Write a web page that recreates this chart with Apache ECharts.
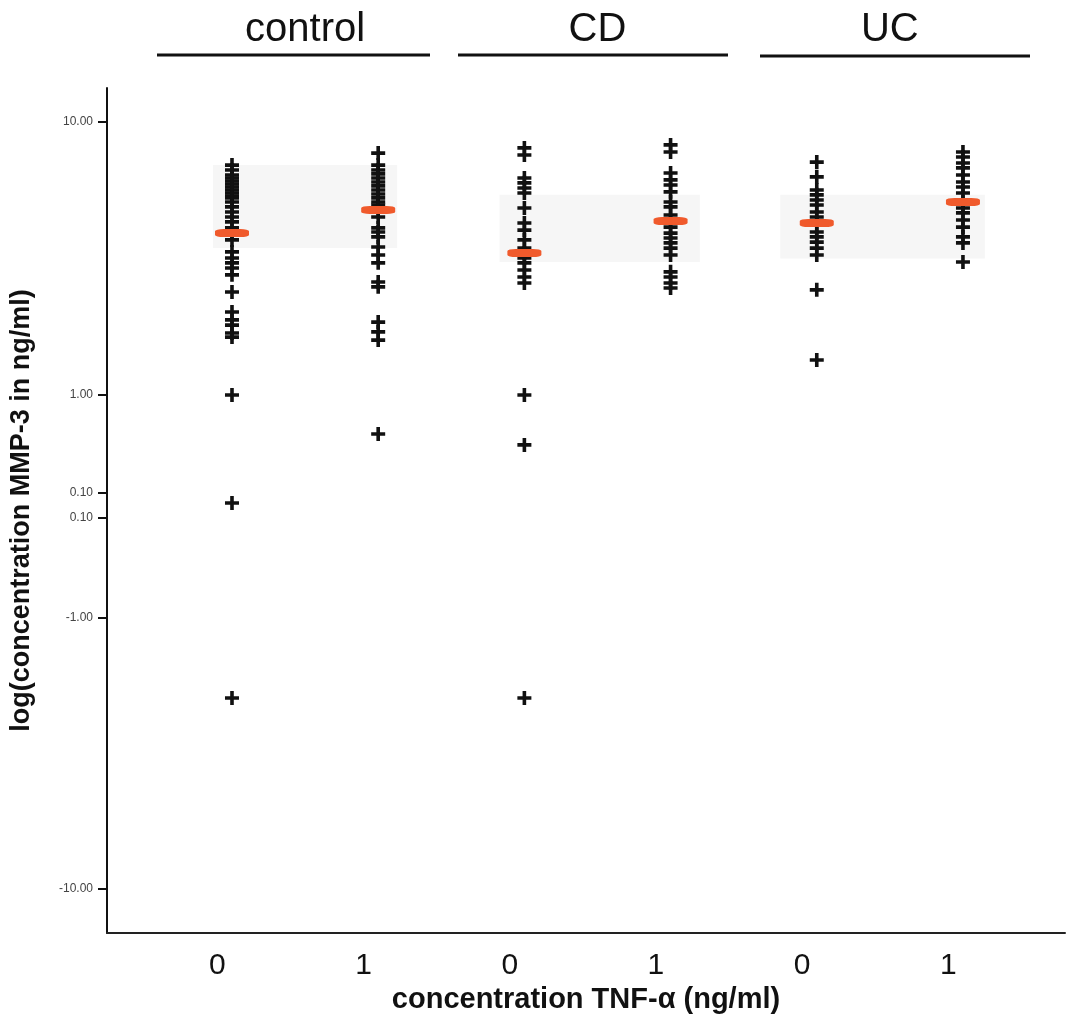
<!DOCTYPE html>
<html lang="en">
<head>
  <meta charset="UTF-8">
  <title>MMP-3</title>
  <script src="https://cdn.jsdelivr.net/npm/echarts@6/dist/echarts.min.js"></script>
</head>
<body style="margin:0">
  <div id="app" style="width: 1069px; height: 1019px;"></div>
  <script>
    // groups and TNF-alpha doses
    var groups = ['control', 'CD', 'UC']
    var tnfLabels = ['0', '1', '0', '1', '0', '1']

    // y axis ticks (axis units = log10 of concentration, odd labels as printed)
    var yTickVals = [1, 0, -0.359, -0.45, -0.817, -1.81]
    var yTickText = ['10.00', '1.00', '0.10', '0.10', '-1.00', '-10.00']

    // values, in axis units
    var control0 = [0.842, 0.824, 0.806, 0.795, 0.784, 0.773, 0.762, 0.751, 0.740, 0.729, 0.722, 0.707, 0.689, 0.670, 0.652, 0.634, 0.612, 0.593, 0.568, 0.524, 0.502, 0.484, 0.465, 0.440, 0.377, 0.304, 0.275, 0.256, 0.227, 0.212, 0.0, -0.396, -1.110]
    var control1 = [0.886, 0.842, 0.824, 0.810, 0.795, 0.780, 0.766, 0.751, 0.736, 0.722, 0.707, 0.696, 0.678, 0.652, 0.612, 0.597, 0.579, 0.542, 0.513, 0.484, 0.414, 0.396, 0.267, 0.231, 0.201, -0.143]
    var cd0 = [0.905, 0.879, 0.795, 0.777, 0.758, 0.740, 0.685, 0.630, 0.604, 0.568, 0.538, 0.520, 0.502, 0.484, 0.458, 0.432, 0.410, 0.0, -0.183, -1.110]
    var cd1 = [0.916, 0.890, 0.813, 0.788, 0.769, 0.744, 0.707, 0.689, 0.659, 0.637, 0.615, 0.593, 0.575, 0.557, 0.538, 0.513, 0.451, 0.432, 0.410, 0.392]
    var uc0 = [0.853, 0.799, 0.751, 0.733, 0.714, 0.696, 0.670, 0.652, 0.630, 0.597, 0.579, 0.560, 0.538, 0.513, 0.385, 0.128]
    var uc1 = [0.890, 0.872, 0.850, 0.832, 0.806, 0.780, 0.762, 0.740, 0.707, 0.685, 0.667, 0.641, 0.615, 0.579, 0.557, 0.487]
    var medians = [0.593, 0.678, 0.520, 0.637, 0.630, 0.707]

    // faint shaded bands per group: [xFrom, xTo, yLow, yHigh]
    var bands = [
      [-0.13, 1.13, 0.538, 0.842],
      [1.83, 3.2, 0.487, 0.733],
      [3.75, 5.15, 0.50, 0.733]
    ]

    var columns = [control0, control1, cd0, cd1, uc0, uc1]
    var plus = 'path://M0,5.2H14V8.8H0Z M5.2,0H8.8V14H5.2Z'

    var pts = []
    columns.forEach(function (col, i) {
      col.forEach(function (v) { pts.push([i, v]) })
    })

    var mCharts = echarts.init(document.querySelector('#app'))
    var option = {
      animation: false,
      grid: { left: 107, right: 4, top: 88, bottom: 86, outerBoundsMode: 'none' },
      xAxis: {
        type: 'value',
        min: -0.855,
        max: 5.698,
        name: 'concentration TNF-\u03b1 (ng/ml)',
        nameLocation: 'middle',
        nameGap: 52,
        nameTextStyle: { fontFamily: 'Liberation Sans', fontWeight: 'bold', fontSize: 29, color: '#111' },
        axisLine: { onZero: false, lineStyle: { color: '#222', width: 2 } },
        axisTick: { show: false },
        splitLine: { show: false },
        axisLabel: {
          customValues: [-0.1, 0.9, 1.9, 2.9, 3.9, 4.9],
          formatter: function (v) { return tnfLabels[Math.round(v + 0.1)] },
          fontFamily: 'Liberation Sans',
          fontSize: 30,
          color: '#111',
          margin: 18
        }
      },
      yAxis: {
        type: 'value',
        min: -1.971,
        max: 1.1245,
        name: 'log(concentration MMP-3 in ng/ml)',
        nameLocation: 'middle',
        nameGap: 72,
        nameTextStyle: { fontFamily: 'Liberation Sans', fontWeight: 'bold', fontSize: 27, color: '#111' },
        axisLine: { onZero: false, lineStyle: { color: '#111', width: 2 } },
        axisTick: { customValues: yTickVals, length: 9, lineStyle: { color: '#111', width: 2 } },
        splitLine: { show: false },
        axisLabel: {
          customValues: yTickVals,
          formatter: function (v) { return yTickText[yTickVals.indexOf(v)] },
          fontFamily: 'Liberation Sans',
          fontSize: 12,
          color: '#444',
          margin: 14
        }
      },
      series: [
        {
          type: 'scatter',
          symbol: plus,
          symbolSize: [14, 14],
          itemStyle: { color: '#111', opacity: 1 },
          data: pts,
          markArea: {
            silent: true,
            itemStyle: { color: '#f6f6f6' },
            data: bands.map(function (b) {
              return [{ coord: [b[0], b[3]] }, { coord: [b[1], b[2]] }]
            })
          },
          z: 3
        },
        {
          type: 'scatter',
          symbol: 'roundRect',
          symbolSize: [34, 8],
          itemStyle: { color: '#f05a2c', opacity: 1 },
          data: medians.map(function (m, i) { return [i, m] }),
          z: 4
        }
      ],
      graphic: [
        { type: 'line', shape: { x1: 157, y1: 55, x2: 430, y2: 55 }, style: { stroke: '#111', lineWidth: 3 } },
        { type: 'line', shape: { x1: 458, y1: 55, x2: 728, y2: 55 }, style: { stroke: '#111', lineWidth: 3 } },
        { type: 'line', shape: { x1: 760, y1: 56, x2: 1030, y2: 56 }, style: { stroke: '#111', lineWidth: 3 } }
      ]
    }
    mCharts.setOption(option)

    // group labels centred over each pair of columns
    var texts = groups.map(function (g, i) {
      var px = mCharts.convertToPixel({ xAxisIndex: 0 }, 2 * i + 0.5)
      return {
        type: 'text',
        x: px,
        y: 30,
        style: { text: g, fontFamily: 'Liberation Sans', fontSize: 40, fill: '#111', align: 'center', verticalAlign: 'middle' }
      }
    })
    mCharts.setOption({ graphic: option.graphic.concat(texts) })
  </script>
</body>
</html>
